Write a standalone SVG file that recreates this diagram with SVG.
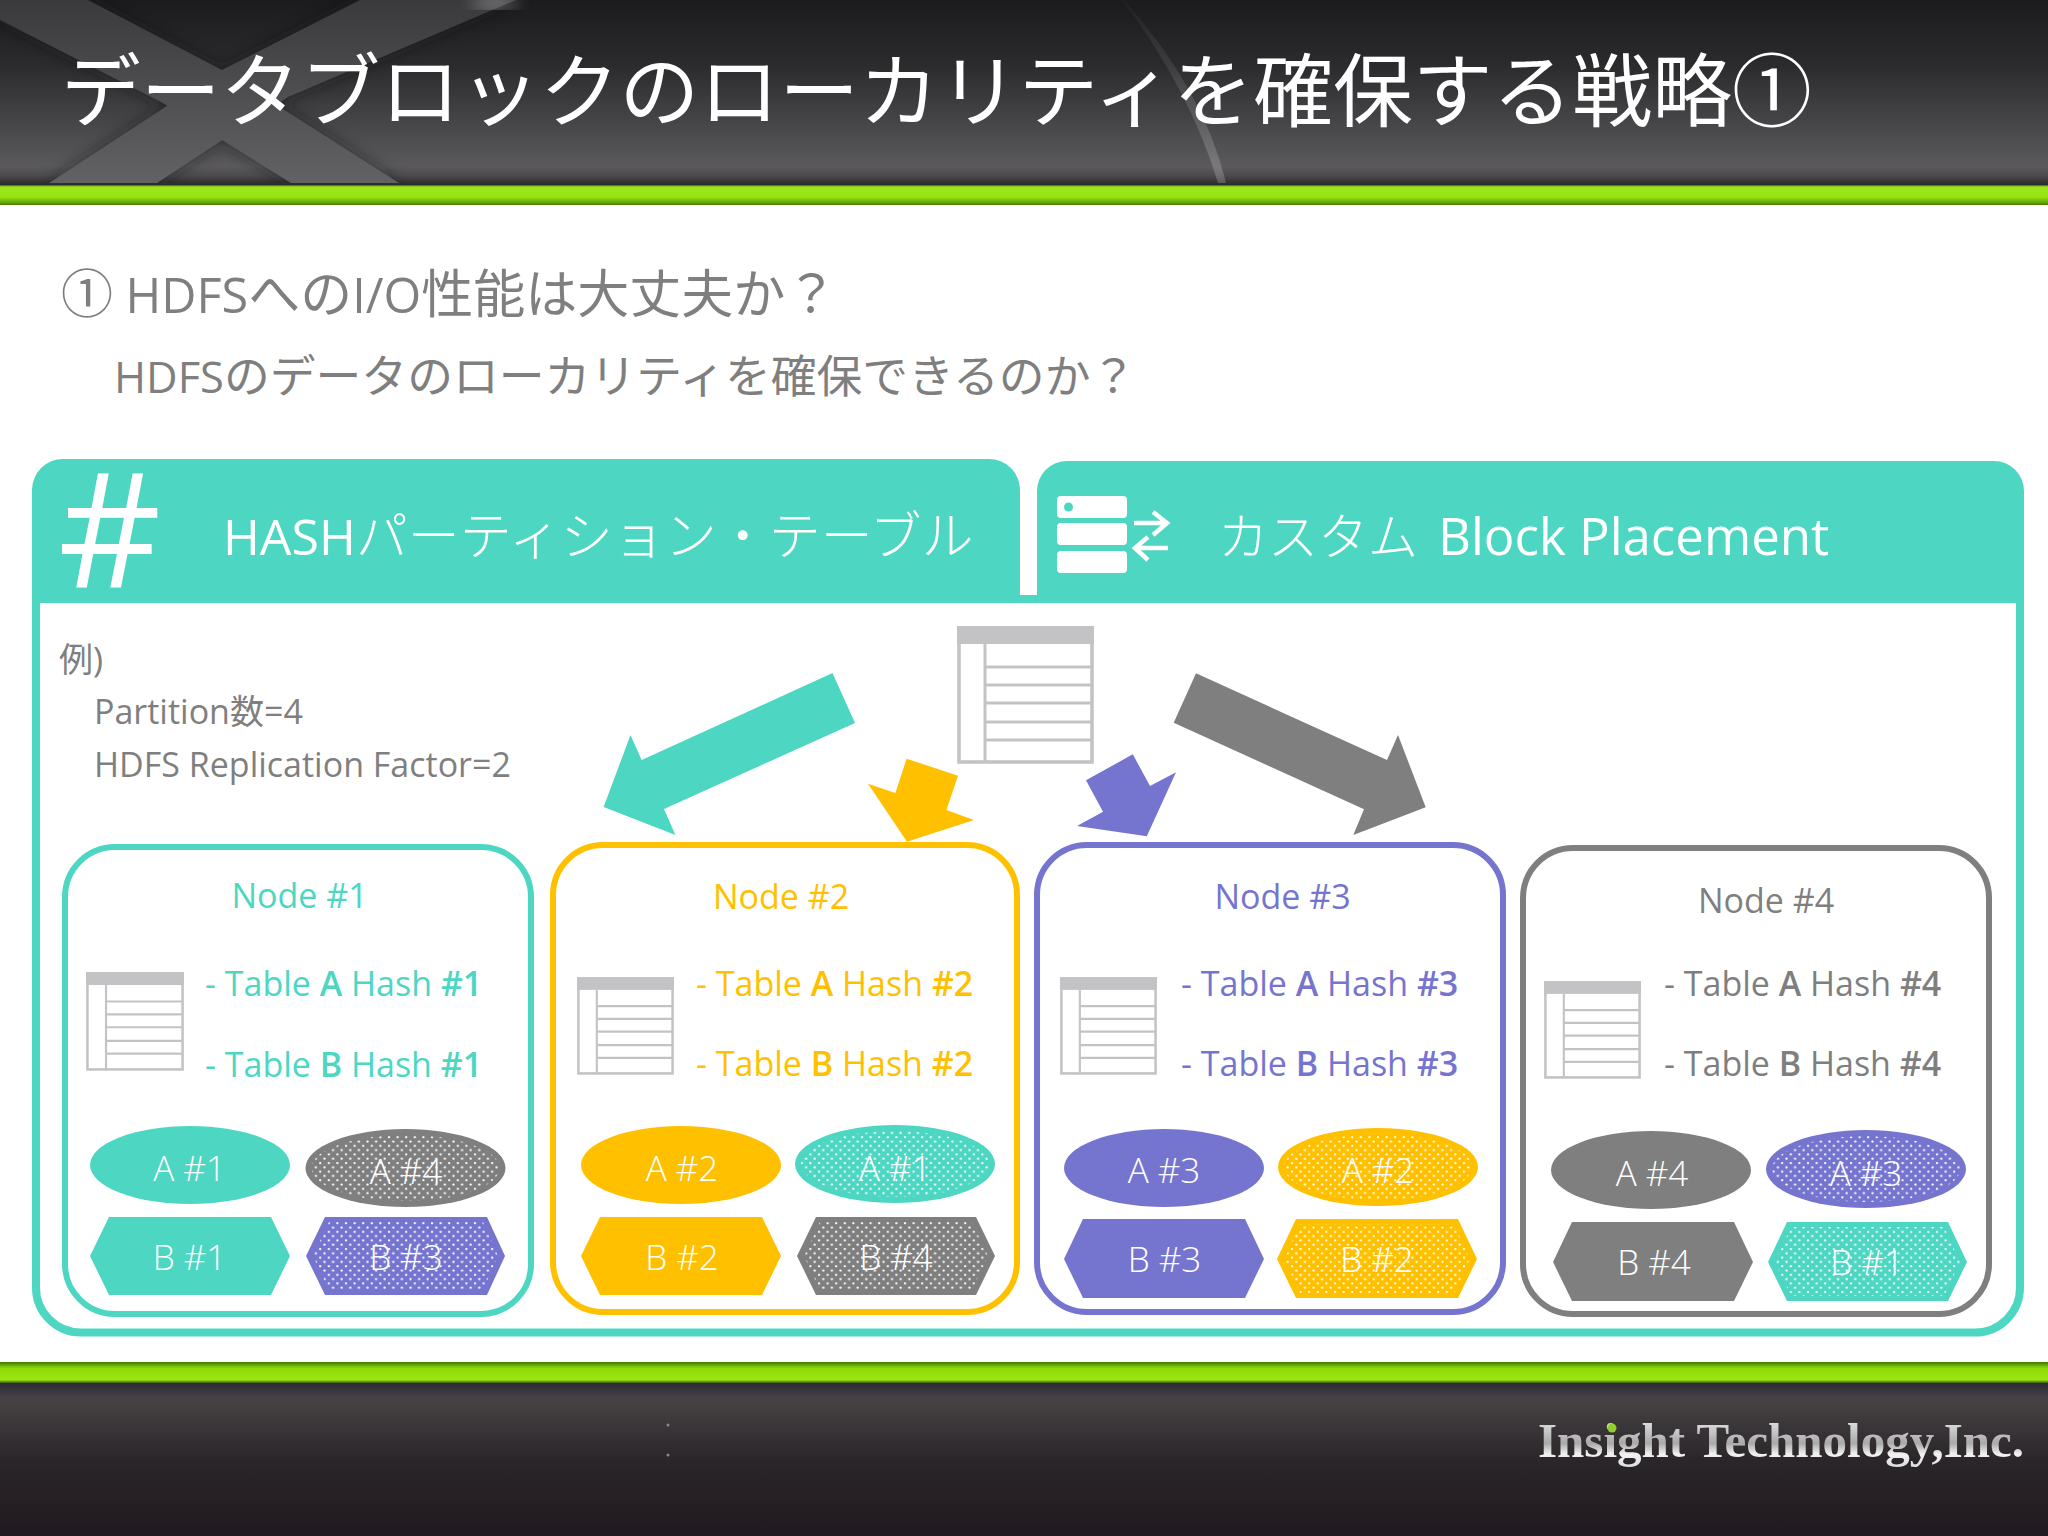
<svg xmlns="http://www.w3.org/2000/svg" width="2048" height="1536" viewBox="0 0 2048 1536">
<style>
text{font-family:"Open Sans","Noto Sans CJK JP",sans-serif}
.g{fill:#7f7f7f}
.w{fill:#fff}
.t{fill:#4dd7c3}.y{fill:#ffc000}.p{fill:#7575d0}.k{fill:#7f7f7f}
.st{stroke:#4dd7c3}.sy{stroke:#ffc000}.sp{stroke:#7575d0}.sk{stroke:#7f7f7f}
.box{fill:#fff;stroke-width:6}
.lab{font-size:34px;text-anchor:middle}
.row{font-size:34px}
.sh{font-size:35px;fill:#fff;text-anchor:middle;font-weight:300}
.b{font-weight:600}
.dots{fill:url(#dots)}
.hd{fill:#fff;font-weight:300}
.la{font-weight:400}
.ln{stroke:#c3c3c5;stroke-width:3;fill:none}
</style>
<defs>
<linearGradient id="hg" x1="0" y1="0" x2="0" y2="1"><stop offset="0" stop-color="#1b1a1c"/><stop offset=".35" stop-color="#2b2a2d"/><stop offset=".9" stop-color="#5a595c"/><stop offset=".95" stop-color="#4d4a4c"/><stop offset="1" stop-color="#2a292a"/></linearGradient>
<linearGradient id="xg" gradientUnits="userSpaceOnUse" x1="0" y1="0" x2="0" y2="183"><stop offset="0" stop-color="#3a393b"/><stop offset="1" stop-color="#626164"/></linearGradient>
<linearGradient id="gr1" x1="0" y1="0" x2="0" y2="1"><stop offset="0" stop-color="#3d6a05"/><stop offset=".1" stop-color="#9ee61c"/><stop offset=".6" stop-color="#98e410"/><stop offset=".9" stop-color="#5f9f05"/><stop offset="1" stop-color="#3f7a00"/></linearGradient>
<linearGradient id="gr2" x1="0" y1="0" x2="0" y2="1"><stop offset="0" stop-color="#3d7a00"/><stop offset=".3" stop-color="#8fd90c"/><stop offset=".85" stop-color="#9ae610"/><stop offset="1" stop-color="#3a5a05"/></linearGradient>
<linearGradient id="fg" x1="0" y1="0" x2="0" y2="1"><stop offset="0" stop-color="#2c2a38"/><stop offset=".1" stop-color="#474345"/><stop offset=".5" stop-color="#2b2629"/><stop offset="1" stop-color="#201a20"/></linearGradient>
<linearGradient id="logo" x1="0" y1="0" x2="0" y2="1"><stop offset="0" stop-color="#f4f4f4"/><stop offset=".55" stop-color="#a9a9a9"/><stop offset=".75" stop-color="#f2f2f2"/><stop offset="1" stop-color="#dcdcdc"/></linearGradient>
<linearGradient id="arc" x1="0" y1="0" x2="0" y2="1"><stop offset="0" stop-color="#fff" stop-opacity=".02"/><stop offset="1" stop-color="#fff" stop-opacity=".2"/></linearGradient>
<filter id="sd" x="-20%" y="-20%" width="140%" height="140%"><feGaussianBlur stdDeviation="8"/></filter>
<pattern id="dots" width="8.6" height="8.6" patternUnits="userSpaceOnUse"><circle cx="2" cy="2" r="1.15" fill="#fff"/><circle cx="6.3" cy="6.3" r="1.15" fill="#fff"/></pattern>
<symbol id="tbl" viewBox="0 0 137 138">
<rect x="2" y="2" width="133" height="134" fill="#fff" stroke="#c3c3c5" stroke-width="3.6"/>
<rect x="0" y="0" width="137" height="18" fill="#c3c3c5"/>
<path class="ln" d="M28 18V136M28 41H135M28 59H135M28 77H135M28 96H135M28 114H135"/>
</symbol>
</defs>

<g id="header">
<rect x="0" y="0" width="2048" height="185" fill="url(#hg)"/>
<clipPath id="hc"><rect x="0" y="0" width="2048" height="183"/></clipPath>
<g clip-path="url(#hc)">
<path d="M0 20 163 103 291 183H399L222 70 88 0H0ZM360 0 222 70 49 183H157L288 97 516 0Z" fill="#141316" opacity=".6" filter="url(#sd)"/>
<path d="M0 20 163 103 291 183H399L222 70 88 0H0Z" fill="url(#xg)"/>
<path d="M360 0 222 70 49 183H157L288 97 516 0Z" fill="url(#xg)"/>
<ellipse cx="495" cy="3" rx="24" ry="5" fill="#fff" opacity=".45" filter="url(#sd)"/>
<path d="M1122 0Q1190 90 1218 183L1226 183Q1204 90 1124 0Z" fill="url(#arc)"/>
</g>
<rect x="0" y="185" width="2048" height="20" fill="url(#gr1)"/>
<text id="title" x="61" y="120" font-size="79.8" class="w" font-weight="400">データブロックのローカリティを確保する戦略①</text>
</g>

<g id="intro" class="g">
<text x="61" y="313" font-size="52">①<tspan font-size="48.5"> HDFS</tspan>への<tspan font-size="48.5">I/O</tspan>性能は大丈夫か？</text>
<text x="114" y="393" font-size="45.800"><tspan font-size="43.500">HDFS</tspan>のデータのローカリティを確保できるのか？</text>
</g>

<g id="frame">
<path d="M36 600V1287A45 45 0 0 0 81 1332.500H1975A45 45 0 0 0 2020 1287.500V600" fill="none" class="st" stroke-width="8"/>
<path d="M32 603V490A31 31 0 0 1 63 459H989A31 31 0 0 1 1020 490V595H1037V491A30 30 0 0 1 1067 461H1994A30 30 0 0 1 2024 491V603Z" class="t"/>
<text x="58" y="588" font-size="160" class="w" font-weight="400">#</text>
<text x="223" y="555" class="hd" font-size="52"><tspan class="la" font-size="50">HASH</tspan>パーティション・テーブル</text>
<g id="server-icon">
<rect x="1057" y="496" width="70" height="22" rx="4" class="w"/>
<rect x="1057" y="523" width="70" height="22" rx="4" class="w"/>
<rect x="1057" y="551" width="70" height="22" rx="4" class="w"/>
<circle cx="1068.500" cy="507" r="4.500" class="t"/>
<path d="M1134 523H1166M1153 512 1167 523 1153 535M1168 548H1136M1148 537 1135 548 1148 560" fill="none" stroke="#fff" stroke-width="4.500"/>
</g>
<text y="555" class="hd" font-size="50"><tspan x="1218">カスタム</tspan><tspan x="1438" class="la" font-size="51">Block Placement</tspan></text>
</g>

<g id="example" class="g" font-size="34">
<text x="59" y="672" font-size="34">例)</text>
<text x="94" y="724" font-size="34">Partition数=4</text>
<text x="94" y="777" font-size="34">HDFS Replication Factor=2</text>
</g>

<g id="source-table"><use href="#tbl" x="957" y="626" width="137" height="138"/></g>

<g id="connectors">
<polygon class="t" points="832.500,673 855,723 664,809 675.400,835 603.600,807 630.500,735 641.700,760"/>
<polygon class="y" points="906.600,758.700 958,775.700 946.400,810 974,820 907,841.700 868,783.700 895.400,793"/>
<polygon class="p" points="1132.800,754.300 1150,786 1176,772.300 1146.800,836.300 1077,826 1103,811.700 1086,780.300"/>
<polygon class="k" points="1196,673.300 1173.700,722.700 1364,809.300 1353.300,835 1425.700,807.300 1398,735 1387,760"/>
</g>

<g id="node1">
<rect x="65" y="847" width="466" height="467" rx="50" class="box st"/>
<text x="299.500" y="908" class="lab t">Node #1</text>
<use href="#tbl" x="86" y="972" width="98" height="99"/>
<text x="205" y="996" class="row t">- Table <tspan class="b">A</tspan> Hash <tspan class="b">#1</tspan></text>
<text x="205" y="1077" class="row t">- Table <tspan class="b">B</tspan> Hash <tspan class="b">#1</tspan></text>
<ellipse cx="190" cy="1165" rx="100" ry="39" class="t"/>
<text x="189.500" y="1181" class="sh">A #1</text>
<ellipse cx="405.500" cy="1168" rx="100" ry="39" class="k"/>
<ellipse cx="405.500" cy="1168" rx="94" ry="33" class="dots"/>
<text x="406" y="1184" class="sh">A #4</text>
<polygon points="90,1256 109,1217 271,1217 290,1256 271,1295 109,1295" class="t"/>
<text x="189.500" y="1270" class="sh">B #1</text>
<polygon points="306,1256 325,1217 487,1217 505,1256 487,1295 325,1295" class="p"/>
<polygon points="313,1256 329,1222 483,1222 498,1256 483,1290 329,1290" class="dots"/>
<text x="406" y="1270" class="sh">B #3</text>
</g>

<g id="node2">
<rect x="553" y="845" width="464" height="467" rx="50" class="box sy"/>
<text x="781" y="909" class="lab y">Node #2</text>
<use href="#tbl" x="577" y="977" width="97" height="98"/>
<text x="696" y="996" class="row y">- Table <tspan class="b">A</tspan> Hash <tspan class="b">#2</tspan></text>
<text x="696" y="1076" class="row y">- Table <tspan class="b">B</tspan> Hash <tspan class="b">#2</tspan></text>
<ellipse cx="681" cy="1165" rx="100" ry="39" class="y"/>
<text x="682" y="1181" class="sh">A #2</text>
<ellipse cx="895" cy="1164" rx="100" ry="39" class="t"/>
<ellipse cx="895" cy="1164" rx="94" ry="33" class="dots"/>
<text x="895" y="1181" class="sh">A #1</text>
<polygon points="581,1256 600,1217 762,1217 781,1256 762,1295 600,1295" class="y"/>
<text x="682" y="1270" class="sh">B #2</text>
<polygon points="797,1256 816,1217 976,1217 995,1256 976,1295 816,1295" class="k"/>
<polygon points="804,1256 820,1222 972,1222 988,1256 972,1290 820,1290" class="dots"/>
<text x="896" y="1270" class="sh">B #4</text>
</g>

<g id="node3">
<rect x="1037" y="845" width="466" height="467" rx="50" class="box sp"/>
<text x="1282.500" y="909" class="lab p">Node #3</text>
<use href="#tbl" x="1060" y="977" width="97" height="98"/>
<text x="1181" y="996" class="row p">- Table <tspan class="b">A</tspan> Hash <tspan class="b">#3</tspan></text>
<text x="1181" y="1076" class="row p">- Table <tspan class="b">B</tspan> Hash <tspan class="b">#3</tspan></text>
<ellipse cx="1164" cy="1168" rx="100" ry="39" class="p"/>
<text x="1164" y="1183" class="sh">A #3</text>
<ellipse cx="1378" cy="1167" rx="100" ry="39" class="y"/>
<ellipse cx="1378" cy="1167" rx="94" ry="33" class="dots"/>
<text x="1378" y="1183" class="sh">A #2</text>
<polygon points="1064,1259 1083,1219 1245,1219 1264,1259 1245,1298 1083,1298" class="p"/>
<text x="1164.500" y="1272" class="sh">B #3</text>
<polygon points="1277,1259 1296,1219 1458,1219 1477,1259 1458,1298 1296,1298" class="y"/>
<polygon points="1284,1259 1300,1224 1454,1224 1470,1259 1454,1293 1300,1293" class="dots"/>
<text x="1377" y="1272" class="sh">B #2</text>
</g>

<g id="node4">
<rect x="1523" y="848" width="466" height="466" rx="50" class="box sk"/>
<text x="1766" y="913" class="lab k">Node #4</text>
<use href="#tbl" x="1544" y="981" width="97" height="98"/>
<text x="1664" y="996" class="row k">- Table <tspan class="b">A</tspan> Hash <tspan class="b">#4</tspan></text>
<text x="1664" y="1076" class="row k">- Table <tspan class="b">B</tspan> Hash <tspan class="b">#4</tspan></text>
<ellipse cx="1651" cy="1170" rx="100" ry="39" class="k"/>
<text x="1652" y="1186" class="sh">A #4</text>
<ellipse cx="1866" cy="1169" rx="100" ry="39" class="p"/>
<ellipse cx="1866" cy="1169" rx="94" ry="33" class="dots"/>
<text x="1866" y="1186" class="sh">A #3</text>
<polygon points="1553,1262 1572,1222 1734,1222 1753,1262 1734,1301 1572,1301" class="k"/>
<text x="1654" y="1275" class="sh">B #4</text>
<polygon points="1768,1262 1787,1222 1948,1222 1967,1262 1948,1301 1787,1301" class="t"/>
<polygon points="1775,1262 1791,1227 1944,1227 1960,1262 1944,1296 1791,1296" class="dots"/>
<text x="1867" y="1275" class="sh">B #1</text>
</g>

<g id="footer">
<rect x="0" y="1362" width="2048" height="21" fill="url(#gr2)"/>
<rect x="0" y="1383" width="2048" height="153" fill="url(#fg)"/>
<circle cx="668" cy="1425" r="1.500" fill="#8a8a8a"/>
<circle cx="668" cy="1455" r="1.500" fill="#8a8a8a"/>
<text x="1538" y="1457" font-size="49" font-weight="700" fill="url(#logo)" style="font-family:'Liberation Serif',serif">Insight Technology,Inc.</text>
<circle cx="1612" cy="1428" r="4.500" fill="#8fd02a"/>
</g>
</svg>
